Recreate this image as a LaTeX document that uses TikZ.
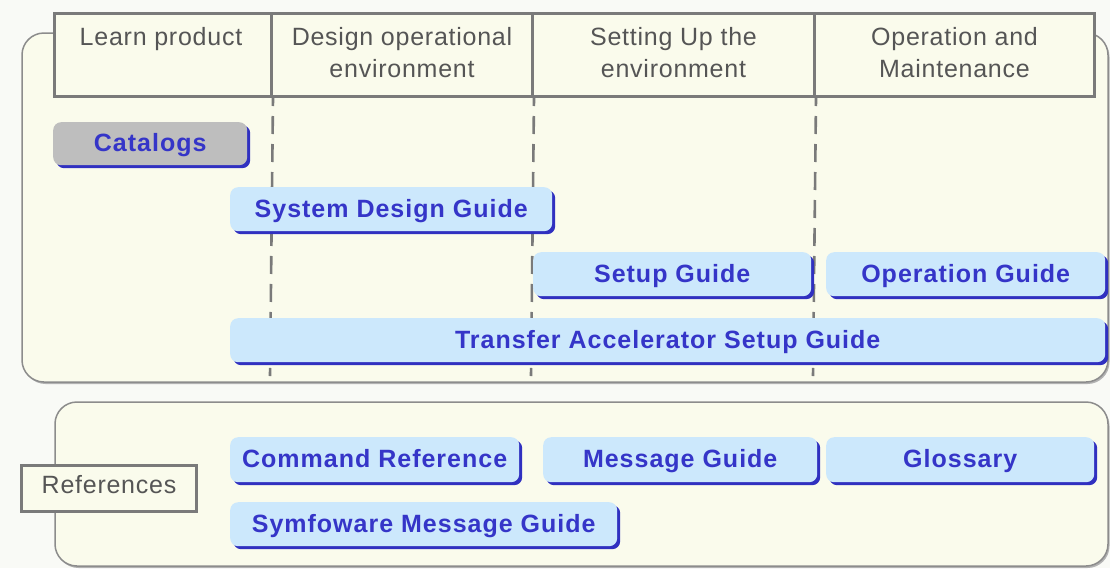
\documentclass[tikz,border=0pt]{standalone}
\usepackage{fontspec}
\setmainfont{Liberation Sans}
\usetikzlibrary{shadows}
\definecolor{bgc}{HTML}{F9FAF6}
\definecolor{panelc}{HTML}{FAFBEC}
\definecolor{panelline}{HTML}{8C8C8C}
\definecolor{hdrline}{HTML}{7A7A7A}
\definecolor{hdrtext}{HTML}{555555}
\definecolor{guidefill}{HTML}{CCE8FC}
\definecolor{guidetext}{HTML}{3535C8}
\definecolor{guideshadow}{HTML}{3030C0}
\definecolor{catfill}{HTML}{BEBEBE}
\tikzset{
  panel/.style={draw=panelline, line width=1.5pt, fill=panelc, rounded corners=22pt,
    drop shadow={shadow xshift=1.5pt, shadow yshift=-2pt, fill=black!30, opacity=1}},
  hdrcell/.style={draw=hdrline, line width=3pt, fill=panelc, inner sep=0pt, anchor=north west},
  hdrtxt/.style={anchor=north, text=hdrtext, align=center, inner sep=0pt,
    font=\fontsize{25}{32}\selectfont\addfontfeature{LetterSpace=3}},
  guide/.style={fill=guidefill, rounded corners=8pt, inner sep=0pt, anchor=north west,
    text=guidetext, font=\fontsize{25}{30}\bfseries\selectfont\addfontfeature{LetterSpace=4},
    text height=22pt, text depth=5.5pt,
    drop shadow={shadow xshift=3pt, shadow yshift=-3pt, fill=guideshadow, opacity=1}},
  divider/.style={draw=hdrline, line width=2.6pt, dash pattern=on 18pt off 10pt, dash phase=10pt},
  refbox/.style={draw=hdrline, line width=3pt, fill=panelc, inner sep=0pt, anchor=north west,
    text=hdrtext, font=\fontsize{25}{30}\selectfont\addfontfeature{LetterSpace=3},
    text height=18pt, text depth=8pt},
}
\begin{document}
\begin{tikzpicture}[x=1pt, y=-1pt]
\fill[bgc] (0,0) rectangle (1110,568);
\useasboundingbox (0,0) rectangle (1110,568);
% panels
\path[panel] (22,33) rectangle (1108,382);
\path[panel] (55,402) rectangle (1108,566);
% header cells
\node[hdrcell, minimum width=217pt, minimum height=83pt] (h1) at (53,12) {};
\node[hdrcell, minimum width=261pt, minimum height=83pt] (h2) at (270,12) {};
\node[hdrcell, minimum width=282pt, minimum height=83pt] (h3) at (531,12) {};
\node[hdrcell, minimum width=280pt, minimum height=83pt] (h4) at (813,12) {};
\node[hdrtxt] (t1) at ([xshift=-2pt,yshift=-15pt]h1.north) {Learn product};
\node[hdrtxt] (t2) at ([yshift=-15pt]h2.north) {Design operational\\environment};
\node[hdrtxt] (t3) at ([yshift=-15pt]h3.north) {Setting Up the\\environment};
\node[hdrtxt] (t4) at ([yshift=-15pt]h4.north) {Operation and\\Maintenance};
% dashed dividers
\coordinate (d1) at (270,376);
\coordinate (d2) at (531,376);
\coordinate (d3) at (813,376);
\draw[divider] (h1.south east) -- (d1);
\draw[divider] (h2.south east) -- (d2);
\draw[divider] (h3.south east) -- (d3);
% guides
\node[guide, fill=catfill, minimum width=194pt, minimum height=43pt] (cat) at (53,122) {Catalogs};
\node[guide, minimum width=322pt, minimum height=44pt] (sdg) at (230,187) {System Design Guide};
\node[guide, minimum width=278pt, minimum height=44pt] (sg) at (533,252) {Setup Guide};
\node[guide, minimum width=279pt, minimum height=44pt] (og) at (826,252) {Operation Guide};
\node[guide, minimum width=875pt, minimum height=44pt] (tasg) at (230,318) {Transfer Accelerator Setup Guide};
% references
\node[refbox, minimum width=175pt, minimum height=46pt] (refs) at (20,464) {References};
\node[guide, minimum width=289pt, minimum height=45pt] (cr) at (230,437) {Command Reference};
\node[guide, minimum width=274pt, minimum height=45pt] (mg) at (543,437) {Message Guide};
\node[guide, minimum width=268pt, minimum height=45pt] (gl) at (826,437) {Glossary};
\node[guide, minimum width=387pt, minimum height=44pt] (smg) at (230,502) {Symfoware Message Guide};
\end{tikzpicture}
\end{document}
